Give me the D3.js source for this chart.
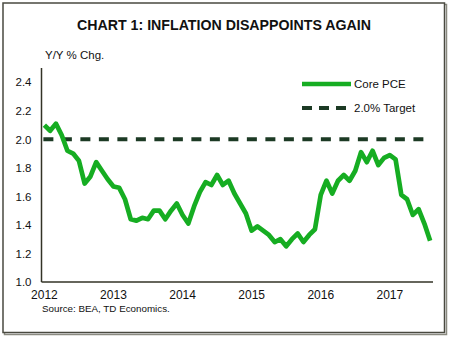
<!DOCTYPE html>
<html>
<head>
<meta charset="utf-8">
<script src="https://cdn.jsdelivr.net/npm/d3@7"></script>
<style>
  html, body { margin: 0; padding: 0; background: #fff; }
  svg { display: block; font-family: "Liberation Sans", Arial, sans-serif; }
</style>
</head>
<body>
<div id="chart-container"></div>
<script>
// Core PCE, y/y % change, monthly Jan 2012 - Aug 2017
const years = [2012, 2013, 2014, 2015, 2016, 2017];
const corePce = [
	2.10, 2.06, 2.11, 2.03, 1.92, 1.90, 1.85, 1.69, 1.74, 1.84, 1.78, 1.72,
	1.67, 1.66, 1.58, 1.44, 1.43, 1.45, 1.44, 1.50, 1.50, 1.44, 1.50, 1.55,
	1.47, 1.41, 1.53, 1.63, 1.70, 1.68, 1.75, 1.68, 1.71, 1.62, 1.55, 1.48,
	1.36, 1.39, 1.36, 1.33, 1.28, 1.30, 1.25, 1.30, 1.34, 1.28, 1.33, 1.37,
	1.61, 1.71, 1.62, 1.71, 1.75, 1.71, 1.78, 1.91, 1.84, 1.92, 1.82, 1.87,
	1.89, 1.86, 1.61, 1.58, 1.47, 1.51, 1.41, 1.29
];
const target = 2.0;
const yTicks = [1.0, 1.2, 1.4, 1.6, 1.8, 2.0, 2.2, 2.4];
const seriesNames = ["Core PCE", "2.0% Target"];

const width = 450;
const height = 339;
const margin = { top: 68, right: 17, bottom: 57, left: 41.5 };

const months = corePce.map((v, i) => i);
const data = corePce.map((v, i) => ({ m: i, v: v }));

const svg = d3
	.select("#chart-container")
	.append("svg")
	.attr("width", width)
	.attr("height", height);

// frame with a little shadow on the right/bottom
svg.append("rect")
	.attr("x", 4.5).attr("y", 4.5)
	.attr("width", 442).attr("height", 330)
	.attr("fill", "none")
	.attr("stroke", "#8a8a80")
	.attr("stroke-width", 1.5);
svg.append("rect")
	.attr("x", 3).attr("y", 3)
	.attr("width", 441.5).attr("height", 329.5)
	.attr("fill", "#fff")
	.attr("stroke", "#4a4a40")
	.attr("stroke-width", 1.5);

svg.append("text")
	.attr("x", 224)
	.attr("y", 30)
	.attr("text-anchor", "middle")
	.style("font-size", "14.2px")
	.style("font-weight", "bold")
	.style("fill", "#111")
	.text("CHART 1: INFLATION DISAPPOINTS AGAIN");

svg.append("text")
	.attr("x", 45)
	.attr("y", 59)
	.style("font-size", "11.5px")
	.style("fill", "#111")
	.text("Y/Y % Chg.");

const x = d3
	.scaleBand()
	.domain(months)
	.range([margin.left, width - margin.right]);

const xc = (m) => x(m) + x.bandwidth() / 2;

const y = d3
	.scaleLinear()
	.domain([1.0, 2.5])
	.range([height - margin.bottom, margin.top]);

const g = svg.append("g");

// y axis labels
const yAxis = g.append("g")
	.attr("transform", `translate(${margin.left},0)`)
	.call(d3.axisLeft(y).tickValues(yTicks).tickSize(0).tickPadding(10).tickFormat(d3.format(".1f")));
yAxis.select(".domain").remove();
yAxis.selectAll("text")
	.style("font-size", "11.5px")
	.style("font-family", "Liberation Sans, Arial, sans-serif")
	.style("fill", "#111");

// x axis labels on January of each year
const xAxis = g.append("g")
	.attr("transform", `translate(0,${height - margin.bottom})`)
	.call(d3.axisBottom(x)
		.tickValues(years.map((yr) => (yr - 2012) * 12))
		.tickSize(0)
		.tickPadding(8)
		.tickFormat((m) => 2012 + m / 12));
xAxis.select(".domain").remove();
xAxis.selectAll("text")
	.style("font-size", "12px")
	.style("font-family", "Liberation Sans, Arial, sans-serif")
	.style("fill", "#111");

// axis lines
g.append("line")
	.attr("x1", margin.left).attr("x2", margin.left)
	.attr("y1", margin.top).attr("y2", height - margin.bottom)
	.attr("stroke", "#333326").attr("stroke-width", 1.5);
g.append("line")
	.attr("x1", margin.left).attr("x2", width - margin.right)
	.attr("y1", height - margin.bottom).attr("y2", height - margin.bottom)
	.attr("stroke", "#333326").attr("stroke-width", 1.5);

// 2% target line
g.append("line")
	.attr("x1", xc(0) - 1).attr("x2", xc(months.length - 1) + 1)
	.attr("y1", y(target)).attr("y2", y(target))
	.attr("stroke", "#1c3a24")
	.attr("stroke-width", 4)
	.attr("stroke-dasharray", "10 8.5");

const line = d3
	.line()
	.x((d) => xc(d.m))
	.y((d) => y(d.v));

g.append("path")
	.datum(data)
	.attr("fill", "none")
	.attr("stroke", "#16ad22")
	.attr("stroke-width", 4.7)
	.attr("stroke-linejoin", "round")
	.attr("d", line);

// legend
const legend = g.append("g").attr("transform", "translate(302,84)");
seriesNames.forEach((name, i) => {
	const row = legend.append("g").attr("transform", `translate(0,${i * 24})`);
	row.append("line")
		.attr("x1", 0).attr("x2", 49)
		.attr("y1", 0).attr("y2", 0)
		.attr("stroke", i === 0 ? "#16ad22" : "#1c3a24")
		.attr("stroke-width", i === 0 ? 4.7 : 4)
		.attr("stroke-dasharray", i === 0 ? null : "10 7");
	row.append("text")
		.attr("x", 52)
		.attr("y", 4)
		.style("font-size", "11.5px")
		.style("fill", "#111")
		.text(name);
});

svg.append("text")
	.attr("x", 42)
	.attr("y", 312)
	.style("font-size", "9.8px")
	.style("fill", "#111")
	.text("Source: BEA, TD Economics.");
</script>
</body>
</html>
